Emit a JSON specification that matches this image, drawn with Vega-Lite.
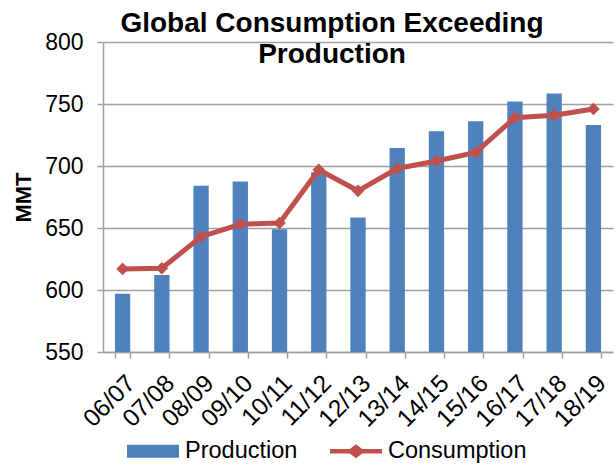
{
  "$schema": "https://vega.github.io/schema/vega-lite/v6.json",
  "width": 510,
  "height": 310,
  "autosize": {"type": "none"},
  "padding": {"left": 103, "top": 42, "right": 2, "bottom": 114},
  "background": "white",
  "title": {
    "text": ["Global Consumption Exceeding", "Production"],
    "font": "Liberation Sans",
    "fontSize": 28,
    "fontWeight": "bold",
    "color": "black",
    "lineHeight": 31,
    "anchor": "middle",
    "offset": -38,
    "dx": -26
  },
  "data": {
    "values": [
      {"season": "06/07", "production": 597, "consumption": 617},
      {"season": "07/08", "production": 612, "consumption": 617.5},
      {"season": "08/09", "production": 684, "consumption": 643},
      {"season": "09/10", "production": 687.5, "consumption": 653},
      {"season": "10/11", "production": 649, "consumption": 654},
      {"season": "11/12", "production": 695, "consumption": 697},
      {"season": "12/13", "production": 658.5, "consumption": 680},
      {"season": "13/14", "production": 714.5, "consumption": 698},
      {"season": "14/15", "production": 728, "consumption": 704},
      {"season": "15/16", "production": 736, "consumption": 711},
      {"season": "16/17", "production": 752, "consumption": 739},
      {"season": "17/18", "production": 758.5, "consumption": 741},
      {"season": "18/19", "production": 733, "consumption": 746}
    ]
  },
  "encoding": {
    "x": {
      "field": "season",
      "type": "nominal",
      "sort": null,
      "scale": {"paddingInner": 0.61, "paddingOuter": 0.305},
      "axis": {
        "title": null,
        "labelAngle": -45,
        "labelFontSize": 24.5,
        "labelFont": "Liberation Sans",
        "labelColor": "black",
        "labelPadding": 13,
        "tickBand": "extent",
        "tickSize": 6,
        "tickColor": "#A0A0A0",
        "tickWidth": 1.5,
        "domainColor": "#A0A0A0",
        "domainWidth": 1.5,
        "grid": false
      }
    }
  },
  "layer": [
    {
      "mark": {"type": "bar"},
      "encoding": {
        "y": {
          "field": "production",
          "type": "quantitative",
          "scale": {"domain": [550, 800], "nice": false, "zero": false},
          "axis": {
            "title": "MMT",
            "titleFont": "Liberation Sans",
            "titleFontSize": 22,
            "titleFontWeight": "bold",
            "titleColor": "black",
            "titlePadding": 9,
            "values": [550, 600, 650, 700, 750, 800],
            "labelFontSize": 23,
            "labelFont": "Liberation Sans",
            "labelColor": "black",
            "labelPadding": 14,
            "tickSize": 6,
            "tickColor": "#A0A0A0",
            "tickWidth": 1.5,
            "domainColor": "#A0A0A0",
            "domainWidth": 1.5,
            "grid": true,
            "gridColor": "#A0A0A0",
            "gridWidth": 1.5
          }
        },
        "y2": {"datum": 550},
        "color": {
          "datum": "Production",
          "type": "nominal",
          "scale": {"domain": ["Production", "Consumption"], "range": ["#4F81BD", "#C0504D"]},
          "legend": {
            "orient": "none",
            "legendX": 24,
            "legendY": 383,
            "direction": "horizontal",
            "title": null,
            "symbolSize": 2704,
            "labelFontSize": 23.5,
            "labelFont": "Liberation Sans",
            "labelColor": "black",
            "labelOffset": 6,
            "columnPadding": 32,
            "encode": {
              "symbols": {
                "update": {
                  "shape": {"signal": "datum.value === 'Production' ? 'M-1,-0.25H1V0.25H-1Z' : 'M-1,-0.09H-0.24L0,-0.27L0.24,-0.09H1V0.09H0.24L0,0.27L-0.24,0.09H-1Z'"},
                  "fill": {"signal": "datum.value === 'Production' ? '#4F81BD' : '#C0504D'"},
                  "stroke": {"value": "transparent"},
                  "strokeWidth": {"value": 0},
                  "opacity": {"value": 1},
                  "fillOpacity": {"value": 1}
                }
              }
            }
          }
        }
      }
    },
    {
      "mark": {"type": "line", "strokeWidth": 5, "point": {"shape": "diamond", "size": 160, "filled": true, "opacity": 1}},
      "encoding": {
        "y": {"field": "consumption", "type": "quantitative"},
        "color": {"datum": "Consumption", "type": "nominal"}
      }
    }
  ],
  "config": {
    "view": {"stroke": null},
    "font": "Liberation Sans"
  }
}
